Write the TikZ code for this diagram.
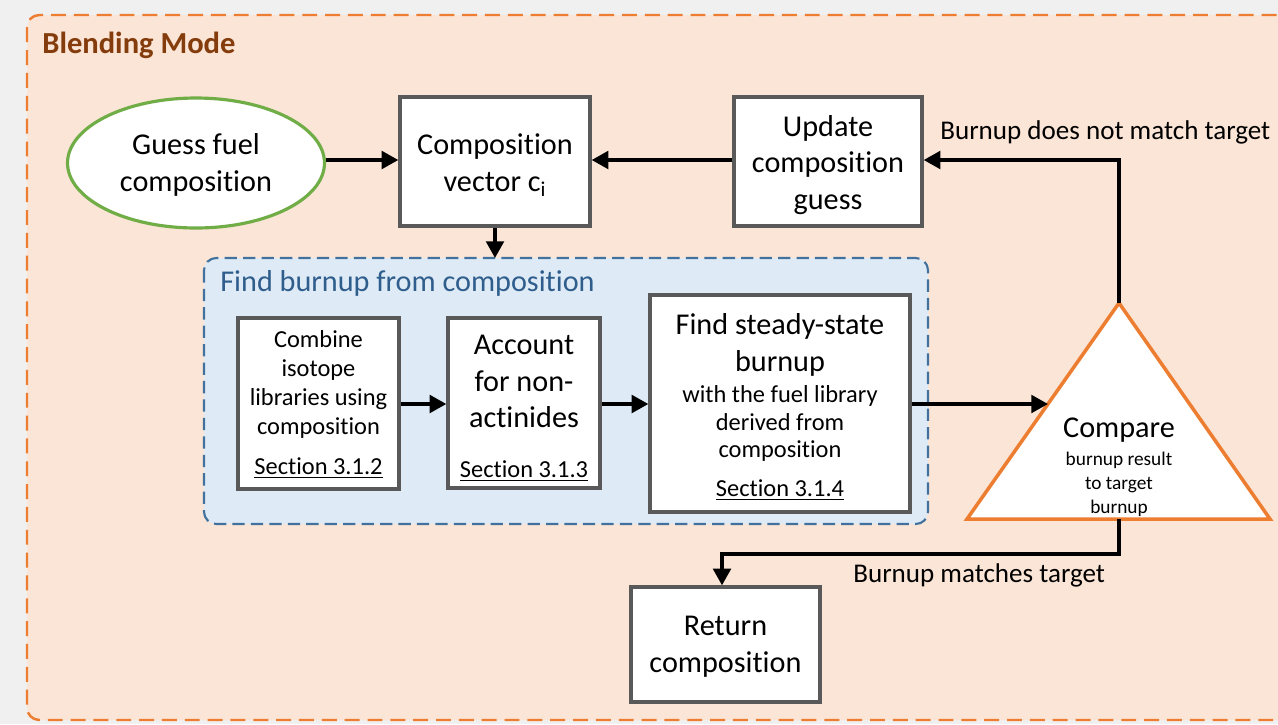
\documentclass[tikz,border=0pt]{standalone}
\usepackage{fontspec}
\setmainfont{Carlito}[Ligatures={NoCommon}]
\usetikzlibrary{arrows.meta,shapes.geometric}
\definecolor{outerfill}{HTML}{FBE5D6}
\definecolor{outerline}{HTML}{ED7D31}
\definecolor{bluefill}{HTML}{DEEBF7}
\definecolor{blueline}{HTML}{41719C}
\definecolor{bluetext}{HTML}{2F5D8C}
\definecolor{boxline}{HTML}{595959}
\definecolor{greenline}{HTML}{70AD47}
\definecolor{browntext}{HTML}{843C0C}
\definecolor{bggray}{HTML}{F0F0F0}
\tikzset{
  box/.style={draw=boxline, line width=1.9pt, fill=white, inner sep=0pt},
  bigtxt/.style={font=\fontsize{17.2}{21}\selectfont, align=center, inner sep=0pt},
  midtxt/.style={font=\fontsize{13.9}{16.4}\selectfont, align=center, inner sep=0pt},
  smalltxt/.style={font=\fontsize{11}{13.7}\selectfont, align=center, inner sep=0pt},
  lbltxt/.style={font=\fontsize{15.4}{18}\selectfont, inner sep=0pt},
  conn/.style={line width=2pt, -{Triangle[length=9.5pt,width=10pt]}},
}
\begin{document}
\begin{tikzpicture}[x=0.02cm,y=-0.02cm]
\useasboundingbox (0,0) rectangle (1278,724);
\fill[bggray] (0,0) rectangle (1278,724);
\begin{scope}
\clip (0,0) rectangle (1278,724);
\draw[outerline, fill=outerfill, line width=1.4pt, dash pattern=on 8.5pt off 4.5pt, rounded corners=7pt] (27,15) rectangle (1320,720);
\end{scope}
\node[anchor=west, font=\fontsize{17.4}{20}\selectfont\bfseries, text=browntext, inner sep=0pt] (title) at (42,45) {Blending Mode};

% blue group
\draw[blueline, fill=bluefill, line width=1.2pt, dash pattern=on 7pt off 3.5pt, rounded corners=7pt] (204,258) rectangle (928,524);
\node[anchor=west, font=\fontsize{17.2}{20}\selectfont, text=bluetext, inner sep=0pt] (btitle) at (220,283) {Find burnup from composition};

% top row
\node[ellipse, draw=greenline, line width=1.8pt, fill=white, minimum width=5.14cm, minimum height=2.6cm, inner sep=0pt] (guess) at (196,163) {};
\node[bigtxt] (guesst) at (196,165) {Guess fuel\\composition};
\node[box, minimum width=3.8cm, minimum height=2.58cm] (comp) at (495,161.5) {};
\node[bigtxt] (compt) at (495,165) {Composition\\vector c\textsubscript{i}};
\node[box, minimum width=3.76cm, minimum height=2.58cm] (upd) at (828,161.5) {};
\node[bigtxt] (updt) at (828,165) {Update\\composition\\guess};

% inner boxes
\node[box, minimum width=3.22cm, minimum height=3.42cm] (comb) at (318.5,403.5) {};
\node[midtxt] (combt) at (318.5,384.5) {Combine\\isotope\\libraries using\\composition};
\node[midtxt] (combs) at (318.5,468) {\underline{Section 3.1.2}};
\node[box, minimum width=3.04cm, minimum height=3.4cm] (acc) at (524,403) {};
\node[bigtxt] (acct) at (524,381.5) {Account\\for non-\\actinides};
\node[midtxt] (accs) at (524,471) {\underline{Section 3.1.3}};
\node[box, minimum width=5.2cm, minimum height=4.34cm] (find) at (780,403.5) {};
\node[bigtxt] (findt) at (780,345) {Find steady-state\\burnup};
\node[midtxt, font=\fontsize{13.9}{15.8}\selectfont] (finds1) at (780,423.5) {with the fuel library\\derived from\\composition};
\node[midtxt] (finds) at (780,490) {\underline{Section 3.1.4}};

% triangle
\coordinate (apex) at (1119,303);
\coordinate (bl) at (967,519);
\coordinate (br) at (1270,519);
\coordinate (bmid) at (1119,519);
\coordinate (tin) at (1048,404);
\draw[outerline, fill=white, line width=2pt, line join=miter] (apex) -- (bl) -- (br) -- cycle;
\node[bigtxt] (cmpt) at (1119,430) {Compare};
\node[smalltxt] (cmps) at (1119,484) {burnup result\\to target\\burnup};

% return
\node[box, minimum width=3.78cm, minimum height=2.3cm] (ret) at (725.5,644.5) {};
\node[bigtxt] (rett) at (725.5,647) {Return\\composition};

% connectors
\draw[conn] (guess.east |- 0,160) -- (comp.west |- 0,160);
\draw[conn] (upd.west |- 0,160) -- (comp.east |- 0,160);
\coordinate (c1) at (1119,160);
\draw[conn] (apex) -- (c1) -- (upd.east |- c1);
\draw[conn] (comp.south) -- (495,258);
\draw[conn] (comb.east |- 0,404) -- (acc.west |- 0,404);
\draw[conn] (acc.east |- 0,404) -- (find.west |- 0,404);
\draw[conn] (find.east |- 0,404) -- (tin);
\coordinate (c2) at (1119,554);
\coordinate (c3) at (722,554);
\draw[conn] (bmid) -- (c2) -- (c3) -- (ret.north -| c3);

% labels
\node[lbltxt, anchor=west] (l1) at (940,132) {Burnup does not match target};
\node[lbltxt, anchor=west] (l2) at (853,575) {Burnup matches target};
\end{tikzpicture}
\end{document}
